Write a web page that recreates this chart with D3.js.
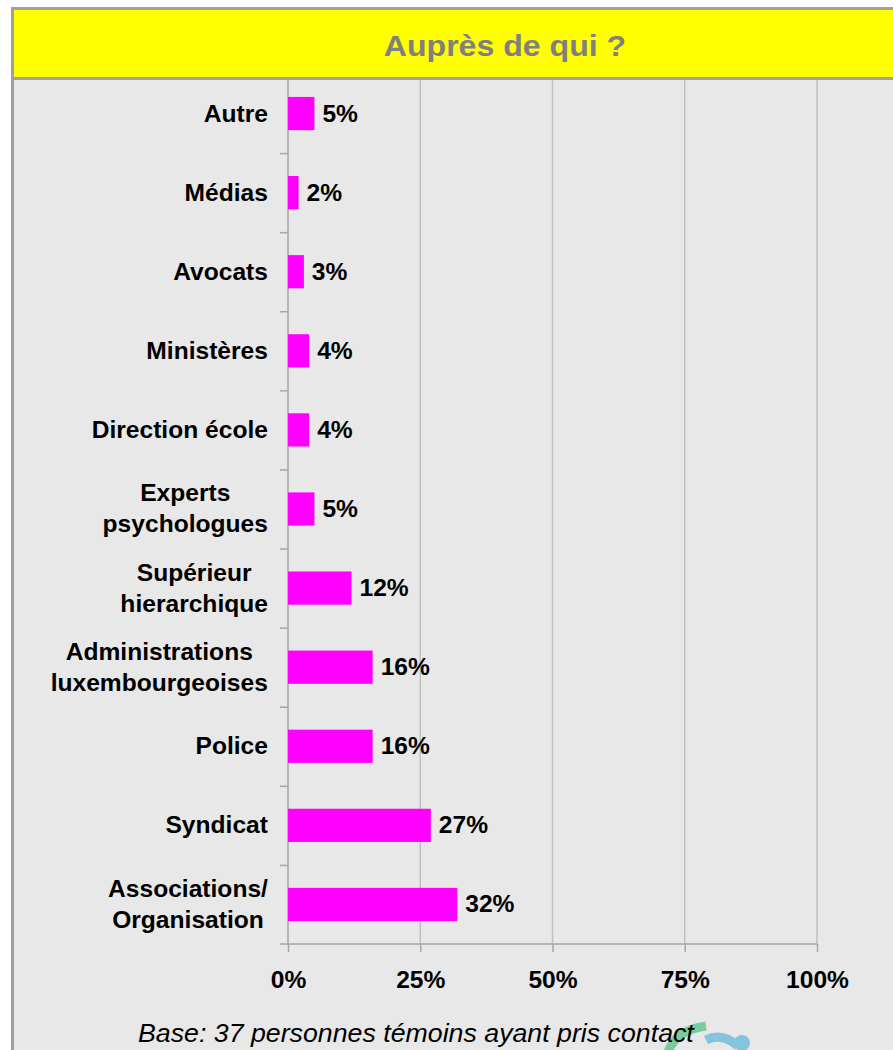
<!DOCTYPE html>
<html>
<head>
<meta charset="utf-8">
<script src="https://cdn.jsdelivr.net/npm/d3@7"></script>
<style>
  body { margin: 0; background: #fff; }
  text { font-family: "Liberation Sans", Arial, sans-serif; }
</style>
</head>
<body>
<svg id="chart" width="893" height="1050"></svg>
<script>
// data, top to bottom as in the picture
const categories = ['Autre', 'Médias', 'Avocats', 'Ministères', 'Direction école',
  'Experts\npsychologues', 'Supérieur\nhierarchique', 'Administrations\nluxembourgeoises',
  'Police', 'Syndicat', 'Associations/\nOrganisation'];
const values = [0.05, 0.02, 0.03, 0.04, 0.04, 0.05, 0.12, 0.16, 0.16, 0.27, 0.32];
const xTicks = [0, 0.25, 0.5, 0.75, 1];
const title = 'Auprès de qui ?';
const footnote = 'Base: 37 personnes témoins ayant pris contact';

const svg = d3.select('#chart');
const plot = { left: 288, right: 817, top: 74, bottom: 944 };
const SX = 1.07; // the source font renders a bit wider than Liberation Sans

// horizontal stretch around anchor point ax
function stretch(sel, ax) {
  sel.attr('transform', `translate(${ax},0) scale(${SX},1) translate(${-ax},0)`);
}

// backgrounds / frame
svg.append('rect').attr('x', 12).attr('y', 78).attr('width', 900).attr('height', 1000).attr('fill', '#e8e8e8');
svg.append('line').attr('x1', 12.5).attr('x2', 12.5).attr('y1', 8).attr('y2', 1050)
  .attr('stroke', '#a0a0a0').attr('stroke-width', 3);

const x = d3.scaleLinear().domain([0, 1]).range([plot.left, plot.right]);
const y = d3.scaleBand().domain(categories).range([plot.top, plot.bottom])
  .paddingInner(0.58).paddingOuter(0.29);

// gridlines
svg.append('g').selectAll('line').data(xTicks.slice(1)).join('line')
  .attr('x1', d => x(d)).attr('x2', d => x(d))
  .attr('y1', plot.top).attr('y2', plot.bottom)
  .attr('stroke', '#c0c0c0').attr('stroke-width', 1.5);

// y axis with ticks at band boundaries
const yEdge = d3.scaleLinear().domain([0, categories.length]).range([plot.top, plot.bottom]);
const yAxis = svg.append('g').attr('transform', `translate(${plot.left},0)`)
  .call(d3.axisLeft(yEdge).tickValues(d3.range(1, categories.length)).tickSize(8).tickFormat(''));
yAxis.selectAll('line, path').attr('stroke', '#a6a6a6').attr('stroke-width', 1.5);
yAxis.select('.domain').attr('d', `M0,${plot.top}V${plot.bottom}`);

// x axis
const xAxis = svg.append('g').attr('transform', `translate(0,${plot.bottom})`)
  .call(d3.axisBottom(x).tickValues(xTicks).tickSize(8).tickFormat(d3.format('.0%')));
xAxis.select('.domain').attr('d', `M${plot.left - 8},0H${plot.right}`);
xAxis.selectAll('line, path').attr('stroke', '#a6a6a6').attr('stroke-width', 1.5);
xAxis.selectAll('text').attr('y', 44).attr('dy', 0).attr('fill', '#000')
  .attr('font-size', 23).attr('font-weight', 'bold')
  .style('font-family', '"Liberation Sans", Arial, sans-serif')
  .attr('transform', `scale(${SX},1)`);

// bars
svg.append('g').selectAll('rect').data(categories).join('rect')
  .attr('x', x(0)).attr('y', d => y(d))
  .attr('width', (d, i) => x(values[i]) - x(0))
  .attr('height', y.bandwidth())
  .attr('fill', '#ff00ff');

// value labels
svg.append('g').selectAll('text').data(categories).join('text')
  .attr('x', (d, i) => x(values[i]) + 8)
  .attr('y', d => y(d) + y.bandwidth() / 2 + 8)
  .attr('font-size', 23).attr('font-weight', 'bold').attr('fill', '#000')
  .text((d, i) => Math.round(values[i] * 100) + '%')
  .each(function (d, i) { stretch(d3.select(this), x(values[i]) + 8); });

// category labels (multi-line ones centered inside a right-aligned block)
const labelRight = 268;
svg.append('g').selectAll('text').data(categories).join('text')
  .attr('font-size', 23).attr('font-weight', 'bold').attr('fill', '#000')
  .attr('text-anchor', 'middle')
  .each(function (d) {
    const t = d3.select(this);
    const lines = d.split('\n');
    const cy = y(d) + y.bandwidth() / 2 + 8;
    lines.forEach((ln, k) => {
      t.append('tspan').attr('y', cy + (k - (lines.length - 1) / 2) * 31).text(ln);
    });
    const w = d3.max(t.selectAll('tspan').nodes(), n => n.getComputedTextLength());
    const cx = labelRight - w * SX / 2;
    t.selectAll('tspan').attr('x', cx);
    stretch(t, cx);
  });

// title box
svg.append('rect').attr('x', 12.5).attr('y', 8.5).attr('width', 900).attr('height', 70)
  .attr('fill', '#ffff00').attr('stroke', '#a0a0a0').attr('stroke-width', 3);
svg.append('text').attr('x', 505).attr('y', 56).attr('text-anchor', 'middle')
  .attr('font-size', 30).attr('font-weight', 'bold').attr('fill', '#808080')
  .text(title)
  .call(stretch, 505);

// logo fragment (bottom)
const logo = svg.append('g').attr('opacity', 0.7);
logo.append('path').attr('d', 'M668,1052 Q676,1030 706,1026')
  .attr('fill', 'none').attr('stroke', '#4fbf7f').attr('stroke-width', 9);
logo.append('path').attr('d', 'M706,1040 Q722,1032 738,1046')
  .attr('fill', 'none').attr('stroke', '#5bb5d8').attr('stroke-width', 9);
logo.append('circle').attr('cx', 742).attr('cy', 1043).attr('r', 8).attr('fill', '#5bb5d8');

// footnote
svg.append('text').attr('x', 138).attr('y', 1042)
  .attr('font-size', 25).attr('font-style', 'italic').attr('fill', '#000')
  .text(footnote)
  .call(stretch, 138);
</script>
</body>
</html>
